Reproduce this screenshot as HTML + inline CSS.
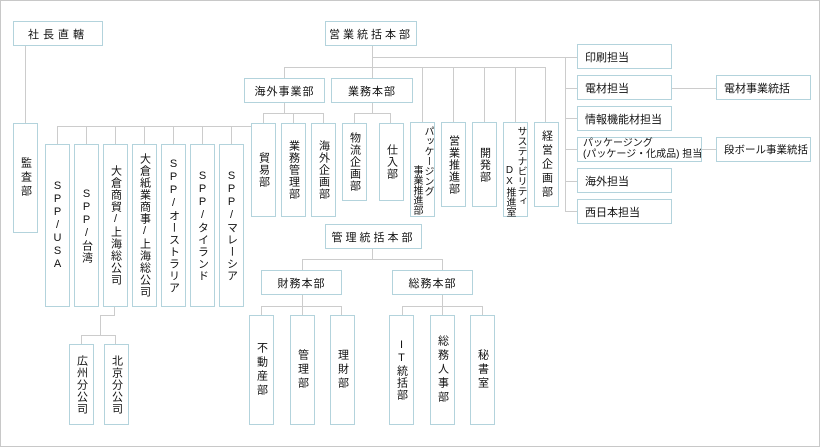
<!DOCTYPE html>
<html><head><meta charset="utf-8"><style>
*{margin:0;padding:0;box-sizing:border-box}
body{width:820px;height:447px;position:relative;background:#fff;font-family:"Liberation Sans","Noto Sans CJK JP",sans-serif;color:#111;overflow:hidden}
.frame{position:absolute;left:0;top:0;width:820px;height:447px;border:1px solid #c8c8c8}
.b{position:absolute;border:1px solid #b3d3dc;background:#fff;font-size:11px;display:flex;align-items:center;justify-content:center;white-space:nowrap}
.h{letter-spacing:1px}
.l{justify-content:flex-start;padding-left:7px}
.v{writing-mode:vertical-rl;text-orientation:upright;letter-spacing:1px}
.v3{letter-spacing:3px}
.c{position:absolute;writing-mode:vertical-rl;text-orientation:upright;font-size:10px;line-height:11px;letter-spacing:0px;white-space:nowrap}
svg{position:absolute;left:0;top:0}
</style></head><body>
<div class="frame"></div>
<svg width="820" height="447"><g stroke="#cccccc" stroke-width="1" fill="none" shape-rendering="crispEdges">
<line x1="25.5" y1="45" x2="25.5" y2="123"/>
<line x1="372.5" y1="45" x2="372.5" y2="78"/>
<line x1="372" y1="57.5" x2="565" y2="57.5"/>
<line x1="565.5" y1="57" x2="565.5" y2="211"/>
<line x1="565" y1="57.5" x2="577" y2="57.5"/>
<line x1="565" y1="88.5" x2="577" y2="88.5"/>
<line x1="565" y1="118.5" x2="577" y2="118.5"/>
<line x1="565" y1="149.5" x2="577" y2="149.5"/>
<line x1="565" y1="181.5" x2="577" y2="181.5"/>
<line x1="565" y1="211.5" x2="577" y2="211.5"/>
<line x1="671" y1="88.5" x2="716" y2="88.5"/>
<line x1="701" y1="149.5" x2="716" y2="149.5"/>
<line x1="284" y1="67.5" x2="546" y2="67.5"/>
<line x1="284.5" y1="67" x2="284.5" y2="78"/>
<line x1="422.5" y1="67" x2="422.5" y2="122"/>
<line x1="453.5" y1="67" x2="453.5" y2="122"/>
<line x1="484.5" y1="67" x2="484.5" y2="122"/>
<line x1="515.5" y1="67" x2="515.5" y2="122"/>
<line x1="545.5" y1="67" x2="545.5" y2="122"/>
<line x1="284.5" y1="102" x2="284.5" y2="113"/>
<line x1="263" y1="113.5" x2="324" y2="113.5"/>
<line x1="263.5" y1="113" x2="263.5" y2="123"/>
<line x1="293.5" y1="113" x2="293.5" y2="123"/>
<line x1="323.5" y1="113" x2="323.5" y2="123"/>
<line x1="57" y1="126.5" x2="251" y2="126.5"/>
<line x1="57.5" y1="126" x2="57.5" y2="144"/>
<line x1="86.5" y1="126" x2="86.5" y2="144"/>
<line x1="115.5" y1="126" x2="115.5" y2="144"/>
<line x1="144.5" y1="126" x2="144.5" y2="144"/>
<line x1="173.5" y1="126" x2="173.5" y2="144"/>
<line x1="202.5" y1="126" x2="202.5" y2="144"/>
<line x1="231.5" y1="126" x2="231.5" y2="144"/>
<line x1="372.5" y1="102" x2="372.5" y2="113"/>
<line x1="354" y1="113.5" x2="391" y2="113.5"/>
<line x1="354.5" y1="113" x2="354.5" y2="123"/>
<line x1="390.5" y1="113" x2="390.5" y2="123"/>
<line x1="114.5" y1="306" x2="114.5" y2="315"/>
<line x1="100" y1="315.5" x2="115" y2="315.5"/>
<line x1="100.5" y1="315" x2="100.5" y2="335"/>
<line x1="81" y1="335.5" x2="116" y2="335.5"/>
<line x1="81.5" y1="335" x2="81.5" y2="344"/>
<line x1="115.5" y1="335" x2="115.5" y2="344"/>
<line x1="372.5" y1="248" x2="372.5" y2="259"/>
<line x1="302" y1="259.5" x2="443" y2="259.5"/>
<line x1="302.5" y1="259" x2="302.5" y2="270"/>
<line x1="442.5" y1="259" x2="442.5" y2="270"/>
<line x1="302.5" y1="294" x2="302.5" y2="306"/>
<line x1="261" y1="306.5" x2="342" y2="306.5"/>
<line x1="261.5" y1="306" x2="261.5" y2="315"/>
<line x1="302.5" y1="306" x2="302.5" y2="315"/>
<line x1="341.5" y1="306" x2="341.5" y2="315"/>
<line x1="442.5" y1="294" x2="442.5" y2="306"/>
<line x1="402" y1="306.5" x2="483" y2="306.5"/>
<line x1="402.5" y1="306" x2="402.5" y2="315"/>
<line x1="442.5" y1="306" x2="442.5" y2="315"/>
<line x1="482.5" y1="306" x2="482.5" y2="315"/>
</g></svg>

<div class="b" style="left:13px;top:21px;width:90px;height:25px;letter-spacing:4px">社長直轄</div>
<div class="b" style="left:325px;top:21px;width:92px;height:25px;letter-spacing:3px">営業統括本部</div>
<div class="b h" style="left:244px;top:78px;width:81px;height:25px">海外事業部</div>
<div class="b h" style="left:331px;top:78px;width:82px;height:25px">業務本部</div>

<div class="b l" style="left:577px;top:44px;width:95px;height:25px">印刷担当</div>
<div class="b l" style="left:577px;top:75px;width:95px;height:25px">電材担当</div>
<div class="b l" style="left:577px;top:106px;width:95px;height:25px">情報機能材担当</div>
<div class="b l" style="left:577px;top:137px;width:125px;height:25px;font-size:10px;line-height:10.5px;flex-direction:column;align-items:flex-start;justify-content:center;padding-left:5px"><span>パッケージング</span><span>(パッケージ・化成品) 担当</span></div>
<div class="b l" style="left:577px;top:168px;width:95px;height:25px">海外担当</div>
<div class="b l" style="left:577px;top:199px;width:95px;height:25px">西日本担当</div>
<div class="b l" style="left:716px;top:75px;width:95px;height:25px">電材事業統括</div>
<div class="b l" style="left:716px;top:137px;width:95px;height:25px;font-size:10.5px">段ボール事業統括</div>

<div class="b v v3" style="left:13px;top:123px;width:25px;height:110px">監査部</div>
<div class="b v" style="left:45px;top:144px;width:25px;height:163px">SPP/USA</div>
<div class="b v" style="left:74px;top:144px;width:25px;height:163px">SPP/台湾</div>
<div class="b v" style="left:103px;top:144px;width:25px;height:163px">大倉商貿/上海総公司</div>
<div class="b v" style="left:132px;top:144px;width:25px;height:163px">大倉紙業商事/上海総公司</div>
<div class="b v" style="left:161px;top:144px;width:25px;height:163px">SPP/オーストラリア</div>
<div class="b v" style="left:190px;top:144px;width:25px;height:163px">SPP/タイランド</div>
<div class="b v" style="left:219px;top:144px;width:25px;height:163px">SPP/マレーシア</div>
<div class="b v" style="left:69px;top:344px;width:25px;height:81px">広州分公司</div>
<div class="b v" style="left:104px;top:344px;width:25px;height:81px">北京分公司</div>

<div class="b v" style="left:251px;top:123px;width:25px;height:94px">貿易部</div>
<div class="b v" style="left:281px;top:123px;width:25px;height:94px">業務管理部</div>
<div class="b v" style="left:311px;top:123px;width:25px;height:94px">海外企画部</div>
<div class="b v" style="left:342px;top:123px;width:25px;height:78px">物流企画部</div>
<div class="b v" style="left:379px;top:123px;width:25px;height:78px">仕入部</div>

<div class="b" style="left:410px;top:122px;width:25px;height:95px"><span class="c" style="left:11px;top:3px">パッケージング</span><span class="c" style="left:0px;top:42px">事業推進部</span></div>
<div class="b v" style="left:441px;top:122px;width:25px;height:85px">営業推進部</div>
<div class="b v" style="left:472px;top:122px;width:25px;height:85px">開発部</div>
<div class="b" style="left:503px;top:122px;width:25px;height:95px"><span class="c" style="left:11px;top:3px">サステナビリティ</span><span class="c" style="left:0px;top:42px">DX推進室</span></div>
<div class="b v v3" style="left:534px;top:122px;width:25px;height:85px">経営企画部</div>

<div class="b" style="left:325px;top:224px;width:97px;height:25px;letter-spacing:3px">管理統括本部</div>
<div class="b h" style="left:261px;top:270px;width:81px;height:25px">財務本部</div>
<div class="b h" style="left:392px;top:270px;width:81px;height:25px">総務本部</div>
<div class="b v v3" style="left:249px;top:315px;width:25px;height:110px">不動産部</div>
<div class="b v v3" style="left:290px;top:315px;width:25px;height:110px">管理部</div>
<div class="b v v3" style="left:330px;top:315px;width:25px;height:110px">理財部</div>
<div class="b v" style="left:389px;top:315px;width:25px;height:110px">IT統括部</div>
<div class="b v v3" style="left:430px;top:315px;width:25px;height:110px">総務人事部</div>
<div class="b v v3" style="left:470px;top:315px;width:25px;height:110px">秘書室</div>
</body></html>
